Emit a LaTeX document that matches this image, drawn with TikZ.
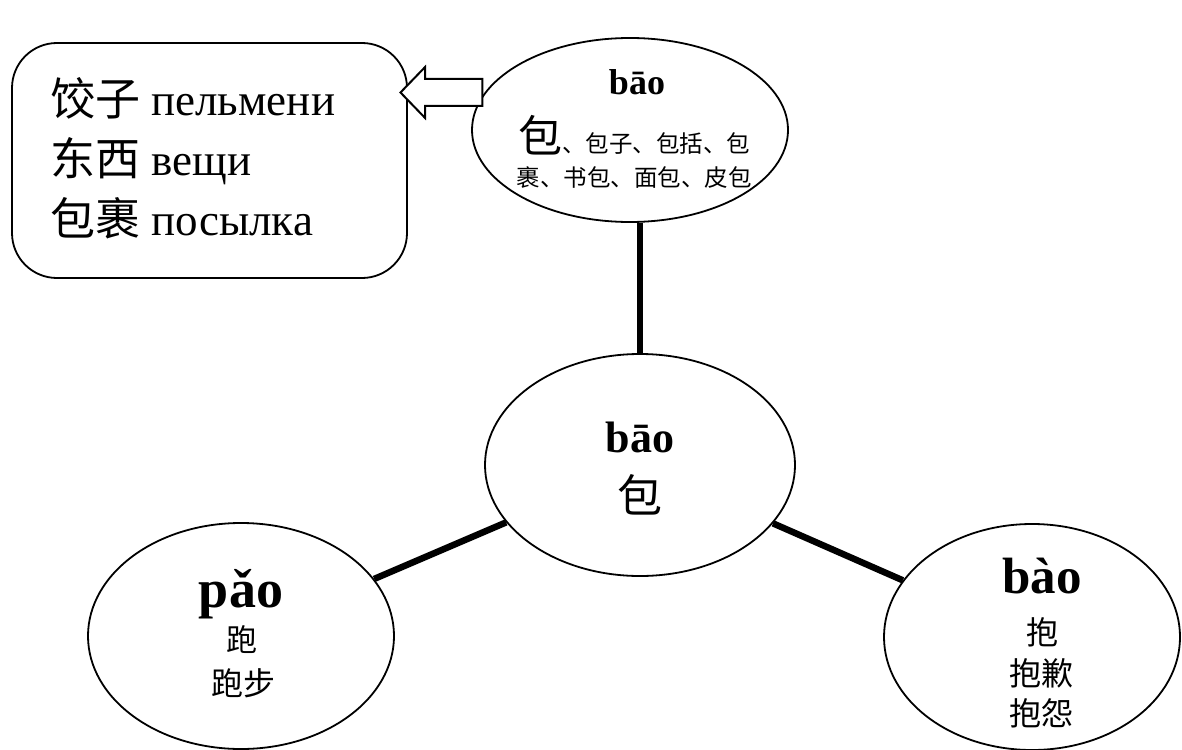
\documentclass[tikz,border=0pt]{standalone}
\usepackage{fontspec}
\setmainfont{Liberation Serif}
\newfontfamily\cjk{Noto Sans CJK SC}
\usetikzlibrary{shapes.geometric,shapes.arrows}
\newcommand{\fsz}[1]{\fontsize{#1}{#1}\selectfont}
\tikzset{
  bub/.style={ellipse, draw, line width=1.8pt, inner sep=0pt, fill=white},
  link/.style={line width=6.5pt},
  py/.style={anchor=base, font=\bfseries, inner sep=0pt},
  zh/.style={anchor=center, inner sep=0pt},
  line/.style={anchor=base west, inner sep=0pt},
}
\begin{document}
\begin{tikzpicture}[x=1pt,y=-1pt]
\useasboundingbox (0,0) rectangle (1182,749);
% box
\node[draw, line width=1.8pt, rounded corners=45pt, minimum width=395pt, minimum height=235pt, inner sep=0pt] (box) at (209.5,160.5) {};
\node[line] (l1) at (50,115) {\fsz{45}{\cjk 饺子} пельмени};
\node[line] (l2) at (50,175) {\fsz{45}{\cjk 东西} вещи};
\node[line] (l3) at (50,235) {\fsz{45}{\cjk 包裹} посылка};
% ellipses
\node[bub, minimum width=316pt, minimum height=184pt] (top) at (630,130) {};
\node[bub, minimum width=310pt, minimum height=222pt] (mid) at (640,465) {};
\node[bub, minimum width=306pt, minimum height=226pt] (left) at (241,636) {};
\node[bub, minimum width=296pt, minimum height=226pt] (right) at (1032,637) {};
% connectors
\draw[link] (top.south -| mid.north) -- (mid.north);
\draw[link] (mid) -- (left);
\draw[link] (mid) -- (right);
% block arrow
\node[draw, single arrow, shape border rotate=180, fill=white, line width=2pt,
  minimum height=82pt, inner sep=0pt, inner ysep=12.5pt,
  single arrow head extend=12pt, single arrow tip angle=92] (arr) at (448,92.5) {};
% top texts
\node[py] (t1) at (637,95) {\fsz{36}bāo};
\node[anchor=base, inner sep=0pt] (t2) at (634,152) {\cjk\fsz{44}包\fsz{23.5}、包子、包括、包};
\node[anchor=base, inner sep=0pt] (t3) at (634,186) {\cjk\fsz{23.5}裹、书包、面包、皮包};
% middle
\node[py] (m1) at (640,452) {\fsz{44}bāo};
\node[zh] (m2) at (640,495) {\cjk\fsz{45}包};
% left
\node[py] (p1) at (241,607) {\fsz{54}pǎo};
\node[zh] (p2) at (242,640) {\cjk\fsz{31}跑};
\node[zh] (p3) at (243,683) {\cjk\fsz{32}跑步};
% right
\node[py] (r1) at (1042,593) {\fsz{51}bào};
\node[zh] (r2) at (1042,632) {\cjk\fsz{32}抱};
\node[zh] (r3) at (1041,673) {\cjk\fsz{32}抱歉};
\node[zh] (r4) at (1041,713) {\cjk\fsz{32}抱怨};
\end{tikzpicture}
\end{document}
